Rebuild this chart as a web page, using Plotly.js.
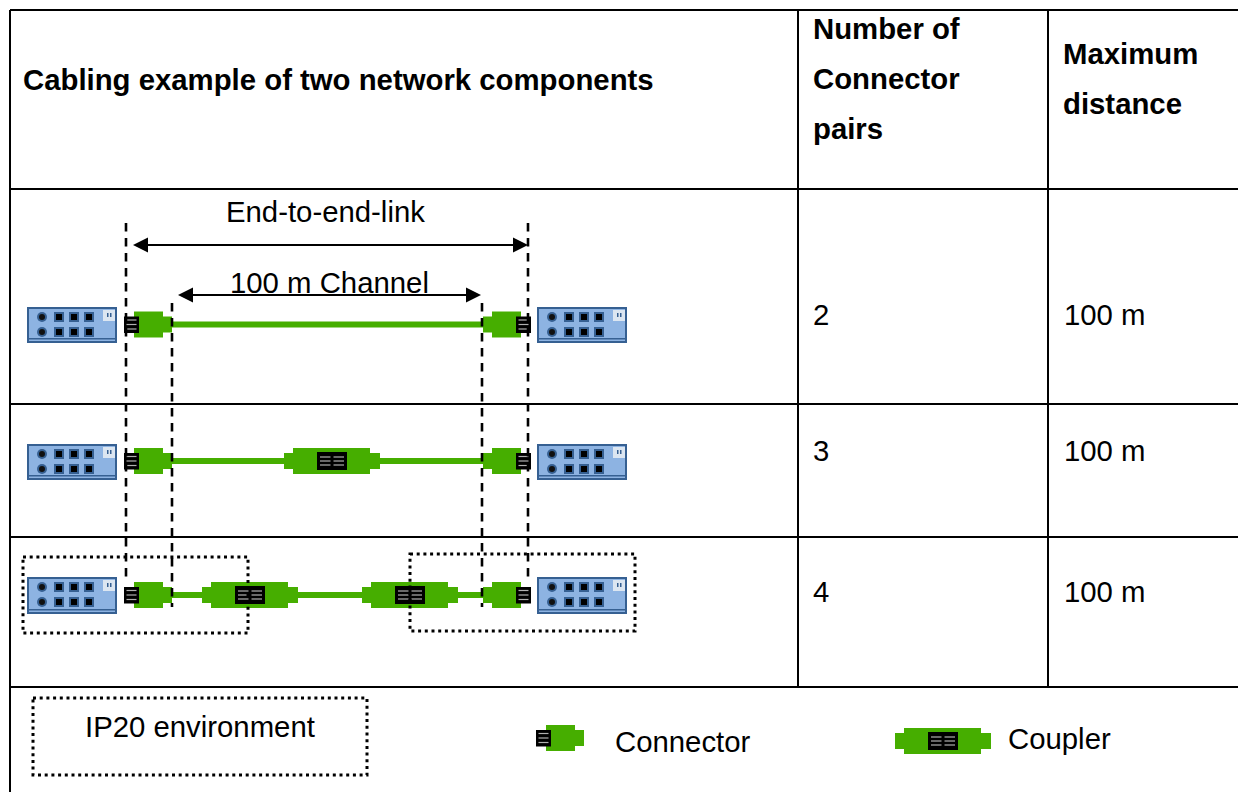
<!DOCTYPE html>
<html><head><meta charset="utf-8">
<script src="https://cdn.plot.ly/plotly-3.0.1.min.js"></script>
<style>html,body{margin:0;padding:0;background:#fff}#c{width:1238px;height:792px}</style>
</head><body><div id="c"></div>
<script>
// Table content
const headerExample = "Cabling example of two network components";
const headerPairs = ["Number of","Connector","pairs"];
const headerDistance = ["Maximum","distance"];
const connectorPairs = ["2","3","4"];
const maxDistance = ["100 m","100 m","100 m"];
const labelEndToEnd = "End-to-end-link";
const labelChannel = "100 m Channel";
const legendLabels = ["IP20 environment","Connector","Coupler"];

// Geometry
const rowTextY = [314,450,591];
const rowLines = [10,189,404,537,687];
const colLines = [798,1048];
const deviceTops = [307,444,577];
const connectorY = [324.5,461,595];
const couplerRow2 = [332];
const couplerRow3 = [250,410];

const GREEN="#46AE00", BLUE="#8DB3E2", DARK="#366092", LIGHT="#DCE6F1";
const shapes=[];
const line=(x0,y0,x1,y1,color="#000",width=2,dash="solid")=>shapes.push({type:"line",xref:"x",yref:"y",x0,y0,x1,y1,line:{color,width,dash}});
const rect=(x0,y0,x1,y1,fill,lc,lw=0)=>shapes.push({type:"rect",xref:"x",yref:"y",x0,y0,x1,y1,fillcolor:fill,line:{color:lc||fill,width:lw}});
const circ=(cx,cy,r,fill)=>shapes.push({type:"circle",xref:"x",yref:"y",x0:cx-r,y0:cy-r,x1:cx+r,y1:cy+r,fillcolor:fill,line:{width:0}});
const tri=(pts,fill)=>shapes.push({type:"path",xref:"x",yref:"y",path:"M"+pts.map(p=>p.join(",")).join("L")+"Z",fillcolor:fill,line:{width:0}});

// Grid
rowLines.forEach(y=>line(10,y,1238,y,"#000",2));
line(10,10,10,792,"#000",2);
colLines.forEach(x=>line(x,10,x,687,"#000",2));

function device(x,top){
  const h=top===577?37:36;
  rect(x+1,top+1,x+89,top+h-1,BLUE,DARK,2);
  rect(x+1,top+h-5,x+89,top+h-3.5,DARK);
  rect(x+76,top+3,x+88,top+14,LIGHT);
  rect(x+80,top+6,x+81.5,top+10,DARK);
  rect(x+83,top+6,x+84.5,top+10,DARK);
  [10,25].forEach(dy=>{
    circ(x+15,top+dy,5,DARK); circ(x+15,top+dy,3,"#111");
    [32,47,62].forEach(dx=>{
      rect(x+dx-5,top+dy-5,x+dx+5,top+dy+5,DARK);
      rect(x+dx-3,top+dy-3,x+dx+3,top+dy+3,"#000");
    });
  });
}
function pinBlock(x0,x1,cy){
  rect(x0,cy-8,x1,cy+8.5,"#000");
  [-4.5,0,4.5].forEach(d=>line(x0+2.5,cy+d,x1-2.5,cy+d,"#B0B0B0",1.2));
}
// side=+1: plug opens to the left, nose points right; side=-1 mirrored
function connector(xBack,cy,side){
  const s=side;
  rect(Math.min(xBack+s*29,xBack+s*38),cy-8,Math.max(xBack+s*29,xBack+s*38),cy+8,GREEN);
  rect(Math.min(xBack,xBack+s*29),cy-13,Math.max(xBack,xBack+s*29),cy+13,GREEN);
  const bx=side>0?[xBack-10,xBack+5]:[xBack-5,xBack+10];
  pinBlock(bx[0],bx[1],cy);
}
function coupler(cx,cy){
  rect(cx-48,cy-8,cx+48,cy+8,GREEN);
  rect(cx-39,cy-13,cx+38,cy+13,GREEN);
  rect(cx-15,cy-9,cx+15,cy+9,"#000");
  [-4,0,4].forEach(d=>{
    line(cx-12,cy+d,cx-1.5,cy+d,"#B0B0B0",1.2);
    line(cx+1.5,cy+d,cx+12,cy+d,"#B0B0B0",1.2);
  });
}
function cable(x0,x1,cy){rect(x0,cy-3,x1,cy+3,GREEN);}

// Rows
connectorY.forEach((cy,i)=>{
  device(27,deviceTops[i]); device(537,deviceTops[i]);
});
connectorY.forEach(cy=>cable(172,483,cy));
connectorY.forEach(cy=>{connector(134,cy,1);connector(521,cy,-1);});
couplerRow2.forEach(c=>coupler(c,connectorY[1]));
couplerRow3.forEach(c=>coupler(c,connectorY[2]));

// Dashed reference lines
const dash="8.5px,6.5px";
line(126,223,126,583,"#000",2.6,dash);
line(172,303,172,607,"#000",2.6,dash);
line(482,303,482,607,"#000",2.6,dash);
line(528,223,528,581,"#000",2.6,dash);

// Arrows
function arrow(x0,x1,y){
  line(x0+10,y,x1-10,y,"#000",2);
  tri([[x0,y],[x0+15,y-7.5],[x0+15,y+7.5]],"#000");
  tri([[x1,y],[x1-15,y-7.5],[x1-15,y+7.5]],"#000");
}
arrow(133,528,245);
arrow(178,481,295);

// Dotted boxes
const dots="3px,3.7px";
const dotted=(x0,y0,x1,y1)=>shapes.push({type:"rect",xref:"x",yref:"y",x0,y0,x1,y1,fillcolor:"rgba(0,0,0,0)",line:{color:"#000",width:3,dash:dots}});
dotted(23,557,248,633);
dotted(410,554,635,631);
dotted(33,698,367,775);

// Legend symbols
connector(546,738,1);
coupler(943,741);

// Text
const FS=29.33;
const ann=(text,x,y,anchor="left",bold=false)=>({xref:"x",yref:"y",x,y,text:bold?"<b>"+text+"</b>":text,showarrow:false,xanchor:anchor,yanchor:"middle",xshift:0,align:anchor,font:{family:"Liberation Sans, Arial, sans-serif",size:FS,color:"#000"},borderpad:0,borderwidth:0});
const annotations=[
  ann(headerExample,23,79,"left",true),
  ...headerPairs.map((t,i)=>ann(t,813,28+50*i,"left",true)),
  ...headerDistance.map((t,i)=>ann(t,1063,53+50*i,"left",true)),
  ...connectorPairs.map((t,i)=>ann(t,813,rowTextY[i],"left")),
  ...maxDistance.map((t,i)=>ann(t,1064,rowTextY[i],"left")),
  ann(labelEndToEnd,325,211,"center"),
  ann(labelChannel,329.5,282,"center"),
  ann(legendLabels[0],200,726,"center"),
  ann(legendLabels[1],615,741,"left"),
  ann(legendLabels[2],1008,738,"left")
];

Plotly.newPlot("c",[{type:"scatter",x:[],y:[],hoverinfo:"skip",showlegend:false}],{
  width:1238,height:792,margin:{l:0,r:0,t:0,b:0},
  paper_bgcolor:"#fff",plot_bgcolor:"#fff",showlegend:false,
  xaxis:{range:[0,1238],visible:false,fixedrange:true},
  yaxis:{range:[792,0],visible:false,fixedrange:true},
  shapes,annotations
},{displayModeBar:false,staticPlot:true});
</script></body></html>
